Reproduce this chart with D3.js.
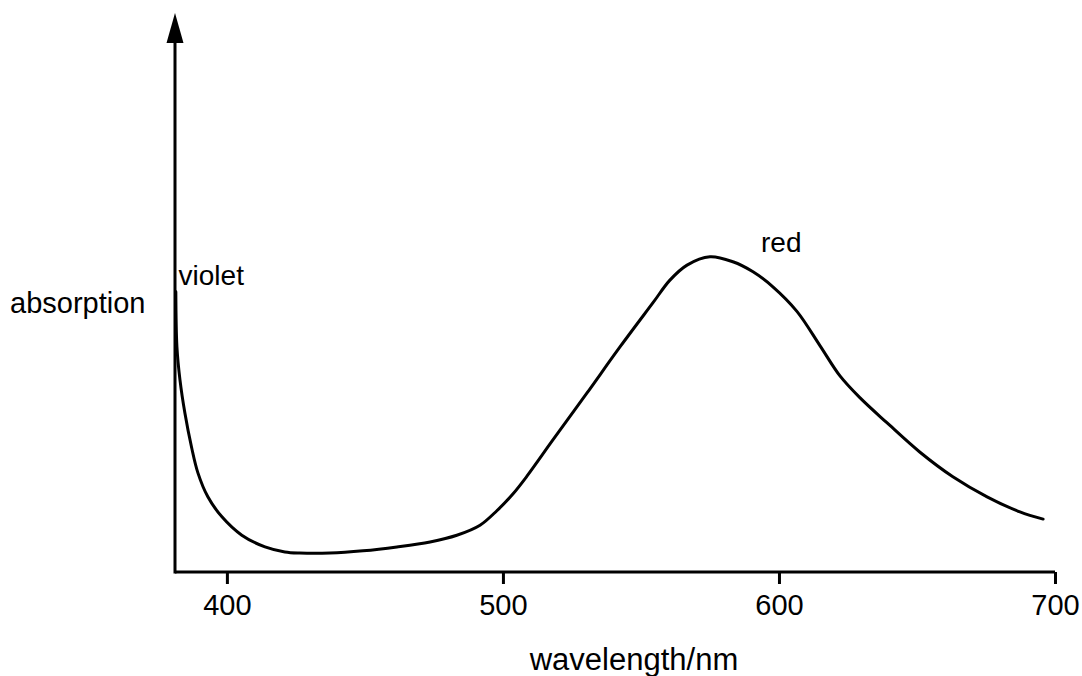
<!DOCTYPE html>
<html>
<head>
<meta charset="utf-8">
<script src="https://cdn.jsdelivr.net/npm/d3@7"></script>
<style>
  body { margin: 0; background: #fff; }
  text { font-family: "Liberation Sans", Arial, Helvetica, sans-serif; fill: #000; }
</style>
</head>
<body>
<div id="chart"></div>
<script>
// wavelength in nm
var wavelengths = [381.5, 381.9, 383.0, 384.8, 387.2, 389.5, 393.1, 398.2, 405.4, 413.8,
    421.0, 426.4, 437.3, 449.3, 461.6, 473.6, 483.3, 491.7, 497.8, 503.6,
    508.7, 518.1, 530.4, 542.4, 554.3, 560.5, 566.7, 575.0, 583.3, 590.6,
    597.8, 606.5, 614.9, 622.1, 629.3, 639.1, 651.1, 663.0, 675.4, 687.3, 695.7];
// absorption, arbitrary units (0 = axis, 100 = top of axis)
var absorption = [50.3, 40.4, 34.5, 28.5, 22.4, 17.8, 13.5, 9.9, 6.6, 4.5,
    3.6, 3.4, 3.4, 3.8, 4.5, 5.4, 6.6, 8.4, 11.0, 14.0,
    17.2, 23.7, 32.1, 40.4, 48.3, 52.4, 55.1, 56.6, 55.7, 53.9,
    51.2, 46.8, 40.6, 35.2, 31.3, 26.8, 21.5, 17.1, 13.5, 10.8, 9.5];
var xTicks = [400, 500, 600, 700];
var labels = [
    { text: 'violet', nm: 382.5, a: 51.5 },
    { text: 'red', nm: 593.5, a: 57.5 }
];

var width = 1082, height = 676;

var svg = d3.select('#chart')
    .append('svg')
    .attr('width', width)
    .attr('height', height);

var x = d3.scaleLinear()
    .domain([381.2, 700])
    .range([175, 1055]);

var y = d3.scaleLinear()
    .domain([0, 100])
    .range([572, 15]);

var data = wavelengths.map(function(w, i) {
    return { nm: w, a: absorption[i] };
});

// X axis with ticks pointing down
var xAxis = svg.append('g')
    .attr('transform', 'translate(0,' + y(0) + ')')
    .call(d3.axisBottom(x)
        .tickValues(xTicks)
        .tickSize(12)
        .tickPadding(8)
        .tickSizeOuter(0)
    );
xAxis.select('.domain')
    .attr('stroke', '#000')
    .attr('stroke-width', 3)
    .attr('d', 'M' + x.range()[0] + ',0H' + x.range()[1]);
xAxis.selectAll('.tick line')
    .attr('stroke', '#000')
    .attr('stroke-width', 3);
xAxis.selectAll('.tick text')
    .attr('font-size', 29)
    .attr('font-family', '"Liberation Sans", Arial, sans-serif')
    .attr('fill', '#000')
    .attr('dy', null)
    .attr('y', 43);

// Y axis: plain line with arrow head
var yTop = y(100);
svg.append('line')
    .attr('x1', x.range()[0]).attr('x2', x.range()[0])
    .attr('y1', y(0) + 1.5).attr('y2', yTop + 25)
    .attr('stroke', '#000')
    .attr('stroke-width', 3);
svg.append('path')
    .attr('d', 'M' + x.range()[0] + ',' + (yTop - 2) +
        'L' + (x.range()[0] + 8.5) + ',' + (yTop + 28) +
        'L' + (x.range()[0] - 8.5) + ',' + (yTop + 28) + 'Z')
    .attr('fill', '#000');

// Curve
var line = d3.line()
    .x(function(d) { return x(d.nm); })
    .y(function(d) { return y(d.a); })
    .curve(d3.curveCatmullRom.alpha(0.5));

svg.append('path')
    .datum(data)
    .attr('fill', 'none')
    .attr('stroke', '#000')
    .attr('stroke-width', 3)
    .attr('stroke-linecap', 'round')
    .attr('d', line);

// Band labels
svg.selectAll('.band-label')
    .data(labels)
    .enter()
    .append('text')
    .attr('class', 'band-label')
    .attr('x', function(d) { return x(d.nm); })
    .attr('y', function(d) { return y(d.a); })
    .attr('font-size', 28)
    .text(function(d) { return d.text; });

// Axis titles
svg.append('text')
    .attr('x', 10)
    .attr('y', 313)
    .attr('font-size', 29)
    .text('absorption');

svg.append('text')
    .attr('x', 634)
    .attr('y', 670)
    .attr('text-anchor', 'middle')
    .attr('font-size', 31)
    .text('wavelength/nm');
</script>
</body>
</html>
